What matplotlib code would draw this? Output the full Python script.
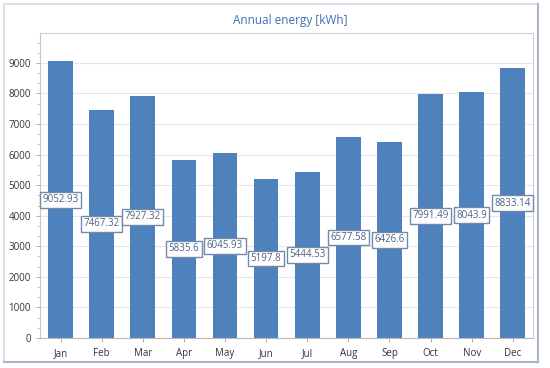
import matplotlib
matplotlib.use('Agg')
import matplotlib.pyplot as plt
from matplotlib.ticker import MultipleLocator, AutoMinorLocator
from matplotlib.patches import Rectangle

months = ['Jan', 'Feb', 'Mar', 'Apr', 'May', 'Jun',
          'Jul', 'Aug', 'Sep', 'Oct', 'Nov', 'Dec']
energy = [9052.93, 7467.32, 7927.32, 5835.6, 6045.93, 5197.8,
          5444.53, 6577.58, 6426.6, 7991.49, 8043.9, 8833.14]
labels = ['9052.93', '7467.32', '7927.32', '5835.6', '6045.93', '5197.8',
          '5444.53', '6577.58', '6426.6', '7991.49', '8043.9', '8833.14']

plt.rcParams['font.family'] = ['Open Sans', 'DejaVu Sans']

fig = plt.figure(figsize=(5.5, 3.68), dpi=100)
ax = fig.add_axes([0.0727, 0.0815, 0.897, 0.829])

# outer frame with a darker right/bottom edge
fig.patches.append(Rectangle((0.008, 0.016), 0.97, 0.972, transform=fig.transFigure,
                             fill=False, edgecolor='#d5dde8', lw=1.2))
fig.add_artist(plt.Line2D([0.978, 0.978], [0.016, 0.988], color='#a9b7cb', lw=1.5))
fig.add_artist(plt.Line2D([0.008, 0.978], [0.016, 0.016], color='#a9b7cb', lw=1.5))

x = range(len(months))
ax.bar(x, energy, width=0.6, color='#4f81bd', zorder=2)

for i, (v, s) in enumerate(zip(energy, labels)):
    ax.text(i, v / 2, s, ha='center', va='center', fontsize=7, color='#4f6282',
            zorder=3,
            bbox=dict(boxstyle='square,pad=0.25', fc='white', ec='#7389ab', lw=1.0))

ax.set_xlim(-0.5, 11.5)
ax.set_ylim(0, 9980)
ax.set_xticks(list(x))
ax.set_xticklabels(months)
ax.yaxis.set_major_locator(MultipleLocator(1000))
ax.yaxis.set_minor_locator(AutoMinorLocator(3))
ax.grid(axis='y', color='#e6e6e6', lw=0.8, zorder=0)
ax.set_axisbelow(True)

for sp in ax.spines.values():
    sp.set_color('#d0d0d0')
    sp.set_linewidth(0.8)
ax.spines['bottom'].set_color('#b8b8b8')
ax.spines['left'].set_color('#c8c8c8')

ax.tick_params(axis='both', labelsize=7, labelcolor='#333333', color='#b0b0b0',
               length=3, width=0.7)
ax.tick_params(axis='y', which='minor', length=2, color='#c0c0c0')
ax.tick_params(axis='x', pad=4)

fig.text(0.527, 0.945, 'Annual energy [kWh]', ha='center', va='center',
         fontsize=8.5, color='#3f6fb3')

fig.savefig('out.png', dpi=100)
